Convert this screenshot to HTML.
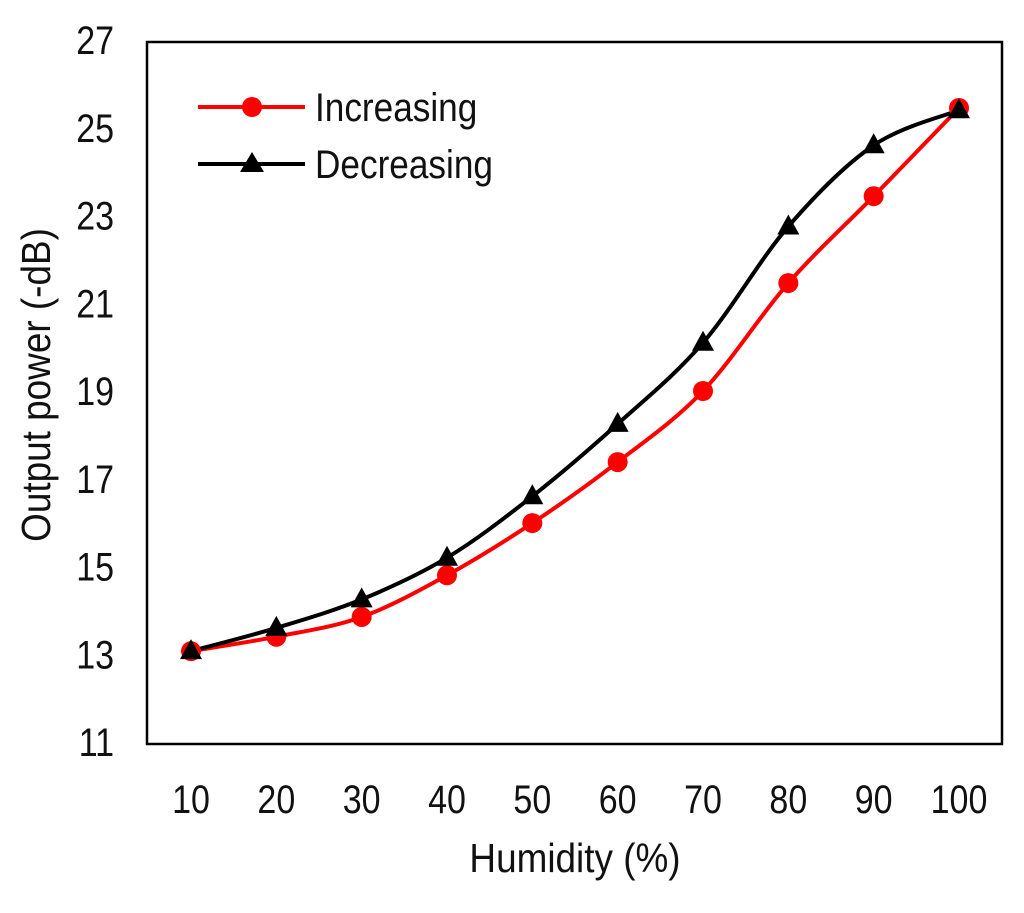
<!DOCTYPE html>
<html><head><meta charset="utf-8"><style>
body{margin:0;background:#fff;}
svg text{font-family:"Liberation Sans",Arial,sans-serif;fill:#111;}
</style></head><body>
<svg id="chart" width="1024" height="908" xmlns="http://www.w3.org/2000/svg">
<rect x="147" y="42" width="855" height="702" fill="none" stroke="#000" stroke-width="2.5"/>
<g id="yticks"></g><g id="xticks"></g><g id="series"></g>
<text transform="translate(50 385) rotate(-90) scale(0.9 1)" font-size="41" text-anchor="middle">Output power (-dB)</text>
<text transform="translate(575 872) scale(0.9 1)" font-size="41" text-anchor="middle">Humidity (%)</text>
<g>
<g>
<line x1="198" y1="107" x2="305" y2="107" stroke="#f00" stroke-width="4"/>
<circle cx="252" cy="107" r="10" fill="#f00"/>
<text transform="translate(315 121) scale(0.88 1)" font-size="40">Increasing</text></g>
<g>
<line x1="198" y1="164" x2="305" y2="164" stroke="#000" stroke-width="4"/>
<polygon points="252,152 264,172 240,172" fill="#000"/>
<text transform="translate(315 178) scale(0.88 1)" font-size="40">Decreasing</text></g>
</g>
</svg>
<script>
const categories=[10,20,30,40,50,60,70,80,90,100];
const increasing=[13.07,13.4,13.85,14.8,15.99,17.38,19.0,21.46,23.44,25.45];
const decreasing=[13.07,13.6,14.25,15.2,16.6,18.25,20.1,22.75,24.6,25.4];
const yTicks=[11,13,15,17,19,21,23,25,27];
const NS="http://www.w3.org/2000/svg";
function xs(i){return 191+i*(959-191)/9;}
function ys(v){return 742-(v-11)*43.875;}
function mk(t,a,p){const e=document.createElementNS(NS,t);for(const k in a)e.setAttribute(k,a[k]);p.appendChild(e);return e;}
const yt=document.getElementById('yticks');
yTicks.forEach(v=>{const t=mk('text',{transform:`translate(114 ${ys(v)+14}) scale(0.85 1)`,'font-size':40,'text-anchor':'end'},yt);t.textContent=v;

});
const xt=document.getElementById('xticks');
categories.forEach((c,i)=>{const t=mk('text',{transform:`translate(${xs(i)} 813) scale(0.85 1)`,'font-size':40,'text-anchor':'middle'},xt);t.textContent=c;

});
function smooth(pts){let d='M'+pts[0][0]+','+pts[0][1];
for(let i=0;i<pts.length-1;i++){const p0=pts[i-1]||pts[i],p1=pts[i],p2=pts[i+1],p3=pts[i+2]||p2;
const c1=[p1[0]+(p2[0]-p0[0])/6,p1[1]+(p2[1]-p0[1])/6],c2=[p2[0]-(p3[0]-p1[0])/6,p2[1]-(p3[1]-p1[1])/6];
d+=' C'+c1+' '+c2+' '+p2;}return d;}
const sg=document.getElementById('series');
const pi=increasing.map((v,i)=>[xs(i),ys(v)]);
const pd=decreasing.map((v,i)=>[xs(i),ys(v)]);
const l1=mk('path',{d:smooth(pi),fill:'none',stroke:'#f00','stroke-width':4},sg);


const l2=mk('path',{d:smooth(pd),fill:'none',stroke:'#000','stroke-width':4},sg);


pi.forEach(p=>{const c=mk('circle',{cx:p[0],cy:p[1],r:10,fill:'#f00'},sg);

});
pd.forEach(p=>{const t=mk('polygon',{points:`${p[0]},${p[1]-12} ${p[0]+11},${p[1]+8} ${p[0]-11},${p[1]+8}`,fill:'#000'},sg);

});
</script>
</body></html>
